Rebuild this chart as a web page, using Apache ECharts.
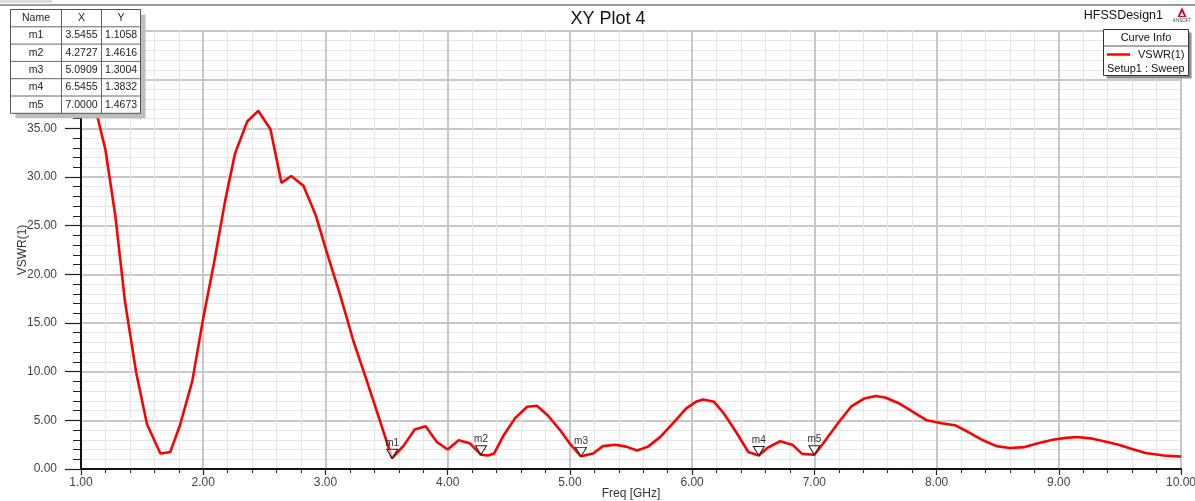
<!DOCTYPE html>
<html><head><meta charset="utf-8">
<script src="https://cdn.jsdelivr.net/npm/echarts@6/dist/echarts.min.js"></script>
<style>html,body{margin:0;padding:0;background:#fff}#c{width:1195px;height:501px}</style>
</head><body><div id="c"></div>
<script>
// ---- data ----
const freqGHz = [1.00,1.06,1.13,1.20,1.28,1.36,1.45,1.54,1.65,1.73,1.81,1.91,2.00,2.09,2.18,2.26,2.36,2.45,2.55,2.64,2.72,2.82,2.92,3.01,3.12,3.23,3.34,3.45,3.5455,3.64,3.73,3.82,3.91,4.00,4.09,4.18,4.2727,4.33,4.38,4.46,4.55,4.65,4.73,4.82,4.92,5.00,5.0909,5.19,5.27,5.37,5.46,5.55,5.64,5.74,5.85,5.95,6.03,6.09,6.18,6.26,6.36,6.46,6.5455,6.62,6.72,6.82,6.90,7.00,7.07,7.19,7.30,7.41,7.50,7.58,7.70,7.81,7.92,8.04,8.15,8.26,8.38,8.49,8.60,8.72,8.83,8.95,9.06,9.15,9.26,9.37,9.49,9.60,9.71,9.86,10.00];
const vswr = [41.5,39.3,36.4,32.8,26.1,17.2,10.0,4.6,1.6,1.75,4.5,9.0,15.5,21.3,27.6,32.4,35.7,36.8,34.9,29.4,30.1,29.1,26.1,22.3,17.9,13.1,9.0,4.8,1.1058,2.4,4.05,4.4,2.8,2.0,2.95,2.65,1.4616,1.38,1.6,3.5,5.2,6.4,6.5,5.5,4.0,2.6,1.3004,1.6,2.35,2.5,2.3,1.9,2.3,3.3,4.8,6.2,6.9,7.15,6.9,5.7,3.8,1.75,1.3832,2.2,2.85,2.5,1.55,1.4673,2.6,4.65,6.4,7.25,7.5,7.35,6.7,5.85,5.0,4.7,4.5,3.8,2.95,2.35,2.15,2.25,2.65,3.0,3.2,3.28,3.15,2.85,2.5,2.05,1.65,1.38,1.27];
const markerNames = ['m1','m2','m3','m4','m5'];
const markerFreq = [3.5455,4.2727,5.0909,6.5455,7.0000];
const markerVswr = [1.1058,1.4616,1.3004,1.3832,1.4673];
const tableHeader = ['Name','X','Y'];
const seriesName = 'VSWR(1)';
const sweepName = 'Setup1 : Sweep';
const titleText = 'XY Plot 4';
const designName = 'HFSSDesign1';

// ---- chart ----
const FONT = 'Liberation Sans, Arial, sans-serif';
const chart = echarts.init(document.getElementById('c'), null, {renderer:'canvas'});

const graphics = [];
// header lines
graphics.push({type:'rect', z:1, shape:{x:0,y:0,width:52,height:3}, style:{fill:'#dcdcdc'}});
graphics.push({type:'line', z:1, shape:{x1:0,y1:5,x2:1195,y2:5}, style:{stroke:'#9a9a9a', lineWidth:2}});
graphics.push({type:'text', z:1, style:{x:1163, y:16, text:designName, fontSize:12.5, fontFamily:FONT, fill:'#111', align:'right', verticalAlign:'middle', textAlign:'right', textVerticalAlign:'middle'}});
// logo
graphics.push({type:'polygon', z:1, shape:{points:[[1182,7],[1177.5,17],[1186.5,17]]}, style:{fill:'#c8102e'}});
graphics.push({type:'polygon', z:1, shape:{points:[[1182,12],[1180,16],[1184,16]]}, style:{fill:'#fff'}});
graphics.push({type:'text', z:1, style:{x:1182, y:21, text:'ANSOFT', fontSize:4.5, fontFamily:FONT, fill:'#444', align:'center', verticalAlign:'middle', textAlign:'center', textVerticalAlign:'middle'}});

// legend box (Curve Info)
const lb = {x:1103.5, y:29.5, w:85, h:46};
graphics.push({type:'rect', z:3, shape:{x:lb.x+3, y:lb.y+3, width:lb.w, height:lb.h}, style:{fill:'#8c8c8c'}});
graphics.push({type:'rect', z:3, shape:{x:lb.x, y:lb.y, width:lb.w, height:lb.h}, style:{fill:'#fff', stroke:'#333', lineWidth:1}});
graphics.push({type:'line', z:3, shape:{x1:lb.x, y1:46, x2:lb.x+lb.w, y2:46}, style:{stroke:'#555', lineWidth:1}});
graphics.push({type:'text', z:4, style:{x:lb.x+lb.w/2, y:38, text:'Curve Info', fontSize:11, fontFamily:FONT, fill:'#111', align:'center', verticalAlign:'middle', textAlign:'center', textVerticalAlign:'middle'}});
graphics.push({type:'text', z:4, style:{x:1107, y:68.5, text:sweepName, fontSize:11, fontFamily:FONT, fill:'#111', align:'left', verticalAlign:'middle', textAlign:'left', textVerticalAlign:'middle'}});

// marker table
const tb = {x:10.5, y:9.5, colX:[10.5,61.5,101.5,140.5], rowH:17.3};
const nRows = markerNames.length + 1;
const tH = tb.rowH * nRows;
graphics.push({type:'rect', z:10, shape:{x:tb.x+5, y:tb.y+5, width:130, height:tH}, style:{fill:'#bdbdbd'}});
graphics.push({type:'rect', z:10, shape:{x:tb.x, y:tb.y, width:130, height:tH}, style:{fill:'#fff', stroke:'#555', lineWidth:1}});
for (let c=1;c<3;c++) graphics.push({type:'line', z:11, shape:{x1:tb.colX[c], y1:tb.y, x2:tb.colX[c], y2:tb.y+tH}, style:{stroke:'#666', lineWidth:1}});
for (let r=1;r<nRows;r++) graphics.push({type:'line', z:11, shape:{x1:tb.x, y1:tb.y+r*tb.rowH, x2:tb.x+130, y2:tb.y+r*tb.rowH}, style:{stroke:'#666', lineWidth:1}});
function cell(text, r, c){
  graphics.push({type:'text', z:12, style:{x:(tb.colX[c]+tb.colX[c+1])/2, y:tb.y+(r+0.5)*tb.rowH, text:text, fontSize:10.5, fontFamily:FONT, fill:'#222', align:'center', verticalAlign:'middle', textAlign:'center', textVerticalAlign:'middle'}});
}
tableHeader.forEach((h,i)=>cell(h,0,i));
markerNames.forEach((n,i)=>{ cell(n,i+1,0); cell(markerFreq[i].toFixed(4),i+1,1); cell(markerVswr[i].toFixed(4),i+1,2); });

const option = {
  animation:false,
  backgroundColor:'#fff',
  textStyle:{fontFamily:FONT},
  title:{text:titleText, left:603, top:5, textAlign:'center', textStyle:{fontSize:18, fontWeight:'normal', color:'#111', fontFamily:FONT}},
  legend:{data:[seriesName], left:1107, top:49, icon:'rect', itemWidth:23, itemHeight:2.5, itemGap:5, z:6, padding:0,
          textStyle:{fontSize:11, color:'#111', fontFamily:FONT, padding:[0,0,0,3]}},
  grid:{left:81, right:14, top:31, bottom:32, outerBoundsMode:'none', containLabel:false, show:true, borderColor:'#111', borderWidth:2, backgroundColor:'transparent'},
  xAxis:{type:'value', min:1, max:10, interval:1,
    name:'Freq [GHz]', nameLocation:'middle', nameGap:19, nameMoveOverlap:false, nameTextStyle:{fontSize:12, color:'#333', fontFamily:FONT},
    axisLine:{show:true, onZero:false, lineStyle:{color:'#111', width:2}},
    axisTick:{show:true, length:6, lineStyle:{color:'#222', width:1.2}},
    minorTick:{show:true, splitNumber:5, length:4, lineStyle:{color:'#222', width:1}},
    axisLabel:{fontSize:12, color:'#444', margin:8, formatter:v=>v.toFixed(2)},
    splitLine:{show:true, lineStyle:{color:'#c8c8c8', width:2}},
    minorSplitLine:{show:true, lineStyle:{color:'#e6e6e6', width:1.2}}
  },
  yAxis:{type:'value', min:0, max:45, interval:5,
    name:'VSWR(1)', nameLocation:'middle', nameGap:52, nameMoveOverlap:false, nameTextStyle:{fontSize:12, color:'#333', fontFamily:FONT},
    axisLine:{show:true, onZero:false, lineStyle:{color:'#111', width:2}},
    axisTick:{show:true, length:16, lineStyle:{color:'#222', width:1.2}},
    minorTick:{show:true, splitNumber:5, length:8, lineStyle:{color:'#222', width:1}},
    axisLabel:{fontSize:12, color:'#444', margin:24, formatter:v=>v.toFixed(2)},
    splitLine:{show:true, lineStyle:{color:'#c8c8c8', width:2}},
    minorSplitLine:{show:true, lineStyle:{color:'#e6e6e6', width:1.2}}
  },
  series:[
    {name:seriesName, type:'line', z:3, symbol:'none', smooth:false,
     lineStyle:{color:'#f00', width:2.6}, itemStyle:{color:'#f00'},
     data:freqGHz.map((f,i)=>[f, vswr[i]])},
    {name:'markers', type:'scatter', z:4, symbol:'triangle', symbolRotate:180, symbolSize:[11,9], symbolOffset:[0,-4.5],
     itemStyle:{color:'rgba(255,255,255,0.6)', borderColor:'#222', borderWidth:1, opacity:1},
     label:{show:true, position:'top', distance:1, fontSize:10, color:'#333', fontFamily:FONT,
            formatter:p=>markerNames[p.dataIndex]},
     data:markerFreq.map((f,i)=>[f, markerVswr[i]])}
  ],
  graphic:{elements:graphics}
};
chart.setOption(option);
</script></body></html>
